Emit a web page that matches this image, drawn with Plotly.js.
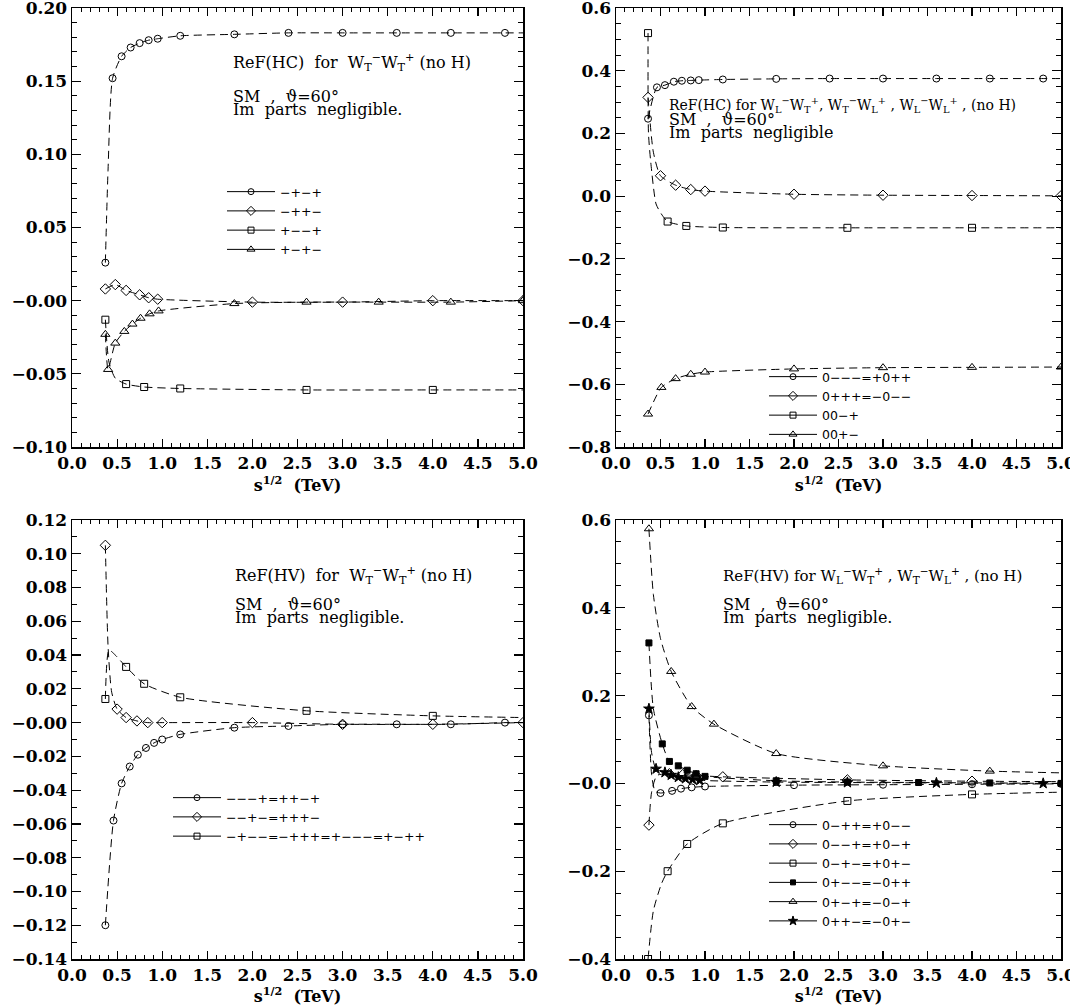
<!DOCTYPE html>
<html>
<head>
<meta charset="utf-8">
<script src="https://cdn.plot.ly/plotly-3.0.1.min.js"></script>
<style>html,body{margin:0;padding:0;background:#fff;} #chart{width:1070px;height:1006px;}</style>
</head>
<body>
<div id="chart"></div>
<script>
// ---------------- DATA ----------------
const X_TICKS = [0, 0.5, 1, 1.5, 2, 2.5, 3, 3.5, 4, 4.5, 5];
const X_TICK_TEXT = ["0.0","0.5","1.0","1.5","2.0","2.5","3.0","3.5","4.0","4.5","5.0"];

const A_Y_TICKS = [-0.10, -0.05, 0, 0.05, 0.10, 0.15, 0.20];
const A_Y_TEXT = ["\u22120.10","\u22120.05","\u22120.00","0.05","0.10","0.15","0.20"];
const B_Y_TICKS = [-0.8, -0.6, -0.4, -0.2, 0, 0.2, 0.4, 0.6];
const B_Y_TEXT = ["\u22120.8","\u22120.6","\u22120.4","\u22120.2","0.0","0.2","0.4","0.6"];
const C_Y_TICKS = [-0.14,-0.12,-0.10,-0.08,-0.06,-0.04,-0.02,0,0.02,0.04,0.06,0.08,0.10,0.12];
const C_Y_TEXT = ["\u22120.14","\u22120.12","\u22120.10","\u22120.08","\u22120.06","\u22120.04","\u22120.02","\u22120.00","0.02","0.04","0.06","0.08","0.10","0.12"];
const D_Y_TICKS = [-0.4, -0.2, 0, 0.2, 0.4, 0.6];
const D_Y_TEXT = ["\u22120.4","\u22120.2","\u22120.0","0.2","0.4","0.6"];

// Panel A: ReF(HC) for WT WT
const A_NAMES = ["\u2212+\u2212+", "\u2212++\u2212", "+\u2212\u2212+", "+\u2212+\u2212"];
const A1_X = [0.37, 0.45, 0.55, 0.65, 0.75, 0.85, 0.95, 1.2, 1.8, 2.4, 3.0, 3.6, 4.2, 4.8];
const A1_Y = [0.026, 0.152, 0.167, 0.173, 0.176, 0.178, 0.179, 0.181, 0.182, 0.183, 0.183, 0.183, 0.183, 0.183];
const A1_CX = [0.40, 5.0];
const A1_CY = [0.09, 0.183];
const A2_X = [0.37, 0.48, 0.60, 0.75, 0.85, 0.95, 2.0, 3.0, 4.0, 5.0];
const A2_Y = [0.008, 0.011, 0.007, 0.004, 0.002, 0.001, -0.001, -0.001, 0.000, 0.000];
const A2_CX = [];
const A2_CY = [];
const A3_X = [0.37, 0.60, 0.80, 1.2, 2.6, 4.0];
const A3_Y = [-0.013, -0.057, -0.059, -0.060, -0.061, -0.061];
const A3_CX = [0.41, 0.48, 5.0];
const A3_CY = [-0.042, -0.053, -0.061];
const A4_X = [0.37, 0.40, 0.48, 0.58, 0.67, 0.76, 0.86, 0.96, 1.8, 2.6, 3.4, 4.2, 5.0];
const A4_Y = [-0.023, -0.047, -0.029, -0.021, -0.016, -0.012, -0.009, -0.007, -0.002, -0.001, -0.001, -0.001, 0.000];
const A4_CX = [];
const A4_CY = [];

// Panel B: ReF(HC) for WL WT, WT WL, WL WL
const B_NAMES = ["0\u2212\u2212\u2212=+0++", "0+++=\u22120\u2212\u2212", "00\u2212+", "00+\u2212"];
const B1_X = [0.36, 0.46, 0.55, 0.65, 0.74, 0.84, 0.93, 1.2, 1.8, 2.4, 3.0, 3.6, 4.2, 4.8];
const B1_Y = [0.247, 0.347, 0.354, 0.365, 0.368, 0.369, 0.370, 0.372, 0.374, 0.375, 0.375, 0.375, 0.375, 0.375];
const B1_CX = [5.0];
const B1_CY = [0.375];
const B2_X = [0.36, 0.50, 0.67, 0.84, 1.0, 2.0, 3.0, 4.0, 5.0];
const B2_Y = [0.315, 0.065, 0.035, 0.021, 0.016, 0.006, 0.003, 0.002, 0.001];
const B2_CX = [0.42];
const B2_CY = [0.14];
const B3_X = [0.36, 0.58, 0.79, 1.2, 2.6, 4.0];
const B3_Y = [0.52, -0.081, -0.095, -0.100, -0.101, -0.101];
const B3_CX = [0.365, 0.39, 0.45, 0.51, 5.0];
const B3_CY = [0.20, 0.11, -0.025, -0.057, -0.101];
const B4_X = [0.36, 0.51, 0.67, 0.84, 1.0, 2.0, 3.0, 4.0, 5.0];
const B4_Y = [-0.695, -0.61, -0.582, -0.568, -0.561, -0.551, -0.547, -0.546, -0.545];
const B4_CX = [];
const B4_CY = [];

// Panel C: ReF(HV) for WT WT
const C_NAMES = ["\u2212\u2212\u2212+=++\u2212+", "\u2212\u2212+\u2212=+++\u2212", "\u2212+\u2212\u2212=\u2212+++=+\u2212\u2212\u2212=+\u2212++"];
const C1_X = [0.37, 0.46, 0.55, 0.64, 0.73, 0.82, 0.91, 1.0, 1.2, 1.8, 2.4, 3.0, 3.6, 4.2, 4.8];
const C1_Y = [-0.120, -0.058, -0.036, -0.026, -0.019, -0.015, -0.012, -0.010, -0.007, -0.003, -0.002, -0.001, -0.001, -0.001, 0.000];
const C1_CX = [5.0];
const C1_CY = [0.000];
const C2_X = [0.37, 0.50, 0.60, 0.72, 0.84, 1.0, 2.0, 3.0, 4.0, 5.0];
const C2_Y = [0.105, 0.008, 0.003, 0.001, 0.000, 0.000, 0.000, -0.001, -0.001, 0.000];
const C2_CX = [0.40, 0.44];
const C2_CY = [0.045, 0.018];
const C3_X = [0.37, 0.60, 0.80, 1.2, 2.6, 4.0];
const C3_Y = [0.014, 0.033, 0.023, 0.015, 0.007, 0.004];
const C3_CX = [0.41, 0.48, 5.0];
const C3_CY = [0.043, 0.040, 0.003];

// Panel D: ReF(HV) for WL WT, WT WL
const D_NAMES = ["0\u2212++=+0\u2212\u2212", "0\u2212\u2212+=+0\u2212+", "0\u2212+\u2212=+0+\u2212", "0+\u2212\u2212=\u22120++", "0+\u2212+=\u22120\u2212+", "0++\u2212=\u22120+\u2212"];
const D1_X = [0.37, 0.50, 0.63, 0.73, 0.85, 1.0, 2.0, 3.0, 4.0, 5.0];
const D1_Y = [0.155, -0.022, -0.017, -0.012, -0.009, -0.007, -0.004, -0.003, -0.002, -0.001];
const D1_CX = [0.40, 0.44];
const D1_CY = [0.02, -0.018];
const D2_X = [0.37, 0.60, 0.75, 0.90, 1.2, 2.6, 4.0];
const D2_Y = [-0.095, 0.022, 0.020, 0.018, 0.015, 0.008, 0.005];
const D2_CX = [0.40, 0.46, 5.0];
const D2_CY = [-0.02, 0.018, 0.004];
const D3_X = [0.36, 0.58, 0.80, 1.2, 2.6, 4.0];
const D3_Y = [-0.40, -0.20, -0.138, -0.091, -0.040, -0.025];
const D3_CX = [0.42, 0.51, 5.0];
const D3_CY = [-0.29, -0.229, -0.020];
const D4_X = [0.37, 0.52, 0.60, 0.70, 0.80, 0.90, 1.0, 1.8, 2.6, 3.4, 4.2, 5.0];
const D4_Y = [0.320, 0.090, 0.050, 0.040, 0.030, 0.022, 0.016, 0.006, 0.003, 0.002, 0.001, 0.000];
const D4_CX = [0.42];
const D4_CY = [0.17];
const D5_X = [0.37, 0.62, 0.85, 1.1, 1.8, 3.0, 4.2];
const D5_Y = [0.580, 0.255, 0.175, 0.135, 0.068, 0.040, 0.028];
const D5_CX = [0.42, 0.50, 5.0];
const D5_CY = [0.43, 0.33, 0.024];
const D6_X = [0.37, 0.45, 0.55, 0.62, 0.70, 0.78, 0.86, 0.94, 1.8, 2.6, 3.6, 4.8];
const D6_Y = [0.170, 0.033, 0.025, 0.019, 0.014, 0.011, 0.009, 0.007, 0.003, 0.002, 0.001, 0.000];
const D6_CX = [0.40];
const D6_CY = [0.07];

// ---------------- BUILD ----------------
function curve(mx, my, cx, cy) {
  const pts = mx.map((x, i) => [x, my[i]]).concat(cx.map((x, i) => [x, cy[i]]));
  pts.sort((a, b) => a[0] - b[0]);
  return {x: pts.map(p => p[0]), y: pts.map(p => p[1])};
}
const traces = [];
function addSeries(ax, legendId, name, symbol, size, mx, my, cx, cy) {
  const c = curve(mx, my, cx, cy);
  const xa = 'x' + (ax === 1 ? '' : ax), ya = 'y' + (ax === 1 ? '' : ax);
  traces.push({type: 'scatter', mode: 'lines', x: c.x, y: c.y, xaxis: xa, yaxis: ya,
    line: {color: '#000', width: 1, dash: '8px,5px', shape: 'spline', smoothing: 0.6},
    showlegend: false, hoverinfo: 'skip'});
  traces.push({type: 'scatter', mode: 'markers', x: mx, y: my, xaxis: xa, yaxis: ya,
    marker: {symbol: symbol, size: size, color: '#000', line: {color: '#000', width: 1}},
    showlegend: false, hoverinfo: 'skip'});
  traces.push({type: 'scatter', mode: 'lines+markers', x: [null], y: [null], xaxis: xa, yaxis: ya,
    name: name, legend: legendId,
    line: {color: '#000', width: 1},
    marker: {symbol: symbol, size: size - 1, color: '#000', line: {color: '#000', width: 1}}});
}
addSeries(1, 'legend', A_NAMES[0], 'circle-open', 7, A1_X, A1_Y, A1_CX, A1_CY);
addSeries(1, 'legend', A_NAMES[1], 'diamond-open', 8, A2_X, A2_Y, A2_CX, A2_CY);
addSeries(1, 'legend', A_NAMES[2], 'square-open', 7, A3_X, A3_Y, A3_CX, A3_CY);
addSeries(1, 'legend', A_NAMES[3], 'triangle-up-open', 8, A4_X, A4_Y, A4_CX, A4_CY);

addSeries(2, 'legend2', B_NAMES[0], 'circle-open', 7, B1_X, B1_Y, B1_CX, B1_CY);
addSeries(2, 'legend2', B_NAMES[1], 'diamond-open', 8, B2_X, B2_Y, B2_CX, B2_CY);
addSeries(2, 'legend2', B_NAMES[2], 'square-open', 7, B3_X, B3_Y, B3_CX, B3_CY);
addSeries(2, 'legend2', B_NAMES[3], 'triangle-up-open', 8, B4_X, B4_Y, B4_CX, B4_CY);

addSeries(3, 'legend3', C_NAMES[0], 'circle-open', 7, C1_X, C1_Y, C1_CX, C1_CY);
addSeries(3, 'legend3', C_NAMES[1], 'diamond-open', 8, C2_X, C2_Y, C2_CX, C2_CY);
addSeries(3, 'legend3', C_NAMES[2], 'square-open', 7, C3_X, C3_Y, C3_CX, C3_CY);

addSeries(4, 'legend4', D_NAMES[0], 'circle-open', 7, D1_X, D1_Y, D1_CX, D1_CY);
addSeries(4, 'legend4', D_NAMES[1], 'diamond-open', 8, D2_X, D2_Y, D2_CX, D2_CY);
addSeries(4, 'legend4', D_NAMES[2], 'square-open', 7, D3_X, D3_Y, D3_CX, D3_CY);
addSeries(4, 'legend4', D_NAMES[3], 'square', 6, D4_X, D4_Y, D4_CX, D4_CY);
addSeries(4, 'legend4', D_NAMES[4], 'triangle-up-open', 8, D5_X, D5_Y, D5_CX, D5_CY);
addSeries(4, 'legend4', D_NAMES[5], 'star', 8, D6_X, D6_Y, D6_CX, D6_CY);

const W = 1070, H = 1006;
const px = v => v / W, py = v => 1 - v / H;
const serif = 'DejaVu Serif';
const tickFont = {family: serif, size: 17, color: '#000', weight: 'bold'};
function xAxis(dom, anchor) {
  return {domain: dom, anchor: anchor, range: [0, 5], tickmode: 'array', tickvals: X_TICKS, ticktext: X_TICK_TEXT,
    showline: true, linecolor: '#000', linewidth: 1.5, mirror: 'allticks', ticks: 'inside', ticklen: 8, tickwidth: 1.2, tickcolor: '#000',
    showgrid: false, zeroline: false, ticklabeloverflow: 'allow', tickfont: tickFont,
    minor: {ticks: 'inside', ticklen: 4, tickwidth: 1, tickcolor: '#000', dtick: 0.1, tick0: 0, showgrid: false},
    title: {text: 's<sup>1/2</sup>  (TeV)', font: {family: serif, size: 16, color: '#000', weight: 'bold'}, standoff: 0}};
}
function yAxis(dom, anchor, range, vals, text, minor) {
  return {domain: dom, anchor: anchor, range: range, tickmode: 'array', tickvals: vals, ticktext: text,
    showline: true, linecolor: '#000', linewidth: 1.5, mirror: 'allticks', ticks: 'inside', ticklen: 9, tickwidth: 1.2, tickcolor: '#000',
    showgrid: false, zeroline: false, ticklabeloverflow: 'allow', tickfont: tickFont,
    minor: {ticks: 'inside', ticklen: 5, tickwidth: 1, tickcolor: '#000', dtick: minor, tick0: 0, showgrid: false}};
}
const xL = [px(72), px(523)], xR = [px(616), px(1061)];
const yT = [py(447), py(8)], yB = [py(959), py(520)];

function legendAt(x, y) {
  return {x: px(x), y: py(y), xanchor: 'left', yanchor: 'top', bgcolor: 'rgba(0,0,0,0)', borderwidth: 0,
    font: {family: 'DejaVu Sans', size: 12.5, color: '#000'}, itemwidth: 48, tracegroupgap: 0};
}
function note(x, y, text, size) {
  return {xref: 'paper', yref: 'paper', x: px(x), y: py(y), xanchor: 'left', yanchor: 'middle', showarrow: false,
    text: text, font: {family: serif, size: size || 16, color: '#000'}};
}
const Wm = s => 'W<sub>' + s[0] + '</sub><sup>' + s[1] + '</sup>';
const layout = {
  width: W, height: H, autosize: false, margin: {l: 0, r: 0, t: 0, b: 0},
  paper_bgcolor: '#fff', plot_bgcolor: '#fff', showlegend: true,
  xaxis: xAxis(xL, 'y'), yaxis: yAxis(yT, 'x', [-0.10, 0.20], A_Y_TICKS, A_Y_TEXT, 0.01),
  xaxis2: xAxis(xR, 'y2'), yaxis2: yAxis(yT, 'x2', [-0.8, 0.6], B_Y_TICKS, B_Y_TEXT, 0.05),
  xaxis3: xAxis(xL, 'y3'), yaxis3: yAxis(yB, 'x3', [-0.14, 0.12], C_Y_TICKS, C_Y_TEXT, 0.01),
  xaxis4: xAxis(xR, 'y4'), yaxis4: yAxis(yB, 'x4', [-0.4, 0.6], D_Y_TICKS, D_Y_TEXT, 0.05),
  legend: legendAt(222, 177), legend2: legendAt(764, 362), legend3: legendAt(168, 783), legend4: legendAt(764, 810),
  annotations: [
    note(231, 63, 'ReF(HC)  for  ' + Wm('T\u2212') + Wm('T+') + ' (no H)'),
    note(231, 96, 'SM  ,  \u03d1=60\u00b0'),
    note(231, 110, 'Im  parts  negligible.'),
    note(667, 105, 'ReF(HC) for ' + Wm('L\u2212') + Wm('T+') + ', ' + Wm('T\u2212') + Wm('L+') + ' , ' + Wm('L\u2212') + Wm('L+') + ' , (no H)', 14),
    note(667, 119, 'SM  ,  \u03d1=60\u00b0'),
    note(667, 133, 'Im  parts  negligible'),
    note(233, 575, 'ReF(HV)  for  ' + Wm('T\u2212') + Wm('T+') + ' (no H)'),
    note(233, 604, 'SM  ,  \u03d1=60\u00b0'),
    note(233, 617, 'Im  parts  negligible.'),
    note(721, 575, 'ReF(HV) for ' + Wm('L\u2212') + Wm('T+') + ' , ' + Wm('T\u2212') + Wm('L+') + ' , (no H)', 15),
    note(721, 604, 'SM  ,  \u03d1=60\u00b0'),
    note(721, 617, 'Im  parts  negligible.')
  ]
};
Plotly.newPlot('chart', traces, layout, {staticPlot: true, displayModeBar: false});
</script>
</body>
</html>
